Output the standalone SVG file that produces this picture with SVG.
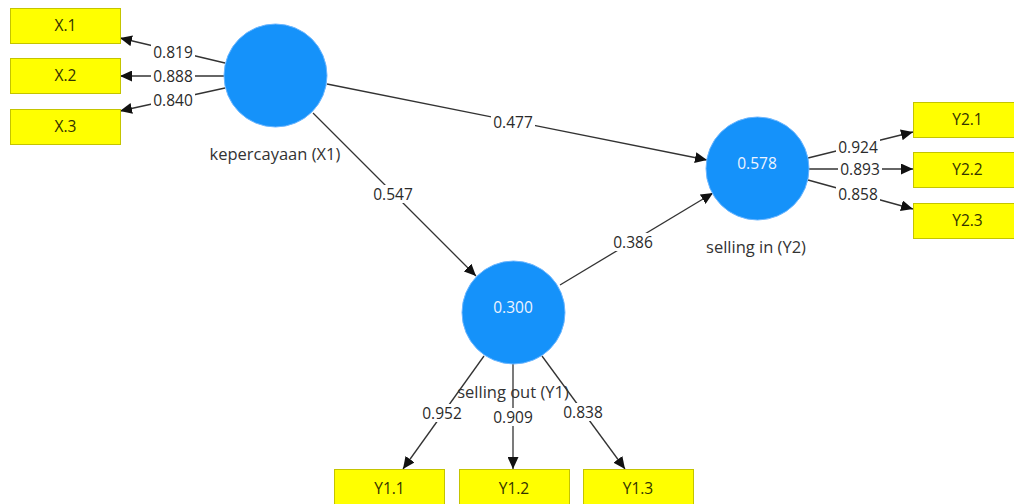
<svg xmlns="http://www.w3.org/2000/svg" width="1014" height="504" viewBox="0 0 1014 504">
<style>
.bg{fill:#ffffff}
.ln{stroke:#333333;stroke-width:1.3;fill:none}
.lbl{font-family:"Open Sans","Noto Sans",sans-serif;font-size:15.5px;fill:#2a2a2a;text-anchor:middle}
.lb{fill:#ffffff}
.box{fill:#ffff00;stroke:#c4c400;stroke-width:1}
.btx{font-family:"Open Sans","Noto Sans",sans-serif;font-size:15.5px;fill:#333300;text-anchor:middle}
.cir{fill:#1592fa;stroke:#6cb6ff;stroke-width:1}
.ctx{font-family:"Open Sans","Noto Sans",sans-serif;font-size:15.5px;fill:#eef4ff;text-anchor:middle}
.ntx{font-family:"Open Sans","Noto Sans",sans-serif;font-size:16.5px;fill:#333333;text-anchor:middle}
</style>
<defs>
<marker id="ah" markerUnits="userSpaceOnUse" markerWidth="13" markerHeight="11" refX="12" refY="5.5" orient="auto">
<path d="M0,0 L12,5.5 L0,11 z" fill="#111111"/>
</marker>
</defs>
<rect class="bg" x="0" y="0" width="1014" height="504"/>
<g id="connectors">
<line class="ln" x1="225" y1="63" x2="120" y2="38" marker-end="url(#ah)"/>
<line class="ln" x1="225" y1="76" x2="120" y2="76" marker-end="url(#ah)"/>
<line class="ln" x1="225" y1="88" x2="120" y2="111" marker-end="url(#ah)"/>
<line class="ln" x1="327" y1="84" x2="707" y2="160" marker-end="url(#ah)"/>
<line class="ln" x1="313" y1="113" x2="476" y2="276" marker-end="url(#ah)"/>
<line class="ln" x1="560" y1="285" x2="713" y2="193" marker-end="url(#ah)"/>
<line class="ln" x1="808" y1="158" x2="913" y2="132" marker-end="url(#ah)"/>
<line class="ln" x1="808" y1="169" x2="913" y2="169" marker-end="url(#ah)"/>
<line class="ln" x1="808" y1="180" x2="913" y2="209" marker-end="url(#ah)"/>
<line class="ln" x1="484" y1="356" x2="403" y2="469" marker-end="url(#ah)"/>
<line class="ln" x1="513" y1="364" x2="513" y2="469" marker-end="url(#ah)"/>
<line class="ln" x1="542" y1="356" x2="625" y2="469" marker-end="url(#ah)"/>
<g id="loading-labels">
<rect class="lb" x="151" y="43" width="44" height="18"/><text class="lbl" x="173" y="57.5">0.819</text>
<rect class="lb" x="151" y="67" width="44" height="18"/><text class="lbl" x="173" y="81.5">0.888</text>
<rect class="lb" x="151" y="91" width="44" height="18"/><text class="lbl" x="173" y="105.5">0.840</text>
<rect class="lb" x="491" y="113" width="44" height="18"/><text class="lbl" x="513" y="128">0.477</text>
<rect class="lb" x="371" y="185" width="44" height="18"/><text class="lbl" x="393" y="199.5">0.547</text>
<rect class="lb" x="611" y="233" width="44" height="18"/><text class="lbl" x="633" y="247.5">0.386</text>
<rect class="lb" x="836" y="138" width="44" height="18"/><text class="lbl" x="858" y="152.5">0.924</text>
<rect class="lb" x="838" y="160" width="44" height="18"/><text class="lbl" x="860" y="174.5">0.893</text>
<rect class="lb" x="836" y="185" width="44" height="18"/><text class="lbl" x="858" y="199.5">0.858</text>
<rect class="lb" x="420" y="404" width="44" height="18"/><text class="lbl" x="442" y="418.5">0.952</text>
<rect class="lb" x="491" y="408" width="44" height="18"/><text class="lbl" x="513" y="422.5">0.909</text>
<rect class="lb" x="561" y="403" width="44" height="18"/><text class="lbl" x="583" y="417.5">0.838</text>
</g>
</g>
<g id="X1">
<circle class="cir" cx="275.5" cy="75.5" r="51.5"/>
<text class="ntx" x="275" y="160">kepercayaan (X1)</text>
</g>
<g id="Y1">
<circle class="cir" cx="513.5" cy="312.5" r="51.5"/>
<text class="ctx" x="513" y="312.5">0.300</text>
<text class="ntx" x="513" y="397.5">selling out (Y1)</text>
</g>
<g id="Y2">
<circle class="cir" cx="757.5" cy="168.5" r="51.5"/>
<text class="ctx" x="757" y="168.5">0.578</text>
<text class="ntx" x="756" y="252.5">selling in (Y2)</text>
</g>
<g id="X.1"><rect class="box" x="10.5" y="8.5" width="110" height="35"/><text class="btx" x="65.5" y="31">X.1</text></g>
<g id="X.2"><rect class="box" x="10.5" y="58.5" width="110" height="35"/><text class="btx" x="65.5" y="81">X.2</text></g>
<g id="X.3"><rect class="box" x="10.5" y="109.5" width="110" height="35"/><text class="btx" x="65.5" y="132">X.3</text></g>
<g id="Y2.1"><rect class="box" x="913.5" y="102.5" width="110" height="35"/><text class="btx" x="967.5" y="125">Y2.1</text></g>
<g id="Y2.2"><rect class="box" x="913.5" y="152.5" width="110" height="35"/><text class="btx" x="967.5" y="175">Y2.2</text></g>
<g id="Y2.3"><rect class="box" x="913.5" y="203.5" width="110" height="35"/><text class="btx" x="967.5" y="226">Y2.3</text></g>
<g id="Y1.1"><rect class="box" x="334.5" y="469.5" width="110" height="35"/><text class="btx" x="389.5" y="493.5">Y1.1</text></g>
<g id="Y1.2"><rect class="box" x="459.5" y="469.5" width="110" height="35"/><text class="btx" x="514" y="493.5">Y1.2</text></g>
<g id="Y1.3"><rect class="box" x="583.5" y="469.5" width="110" height="35"/><text class="btx" x="638" y="493.5">Y1.3</text></g>
</svg>
